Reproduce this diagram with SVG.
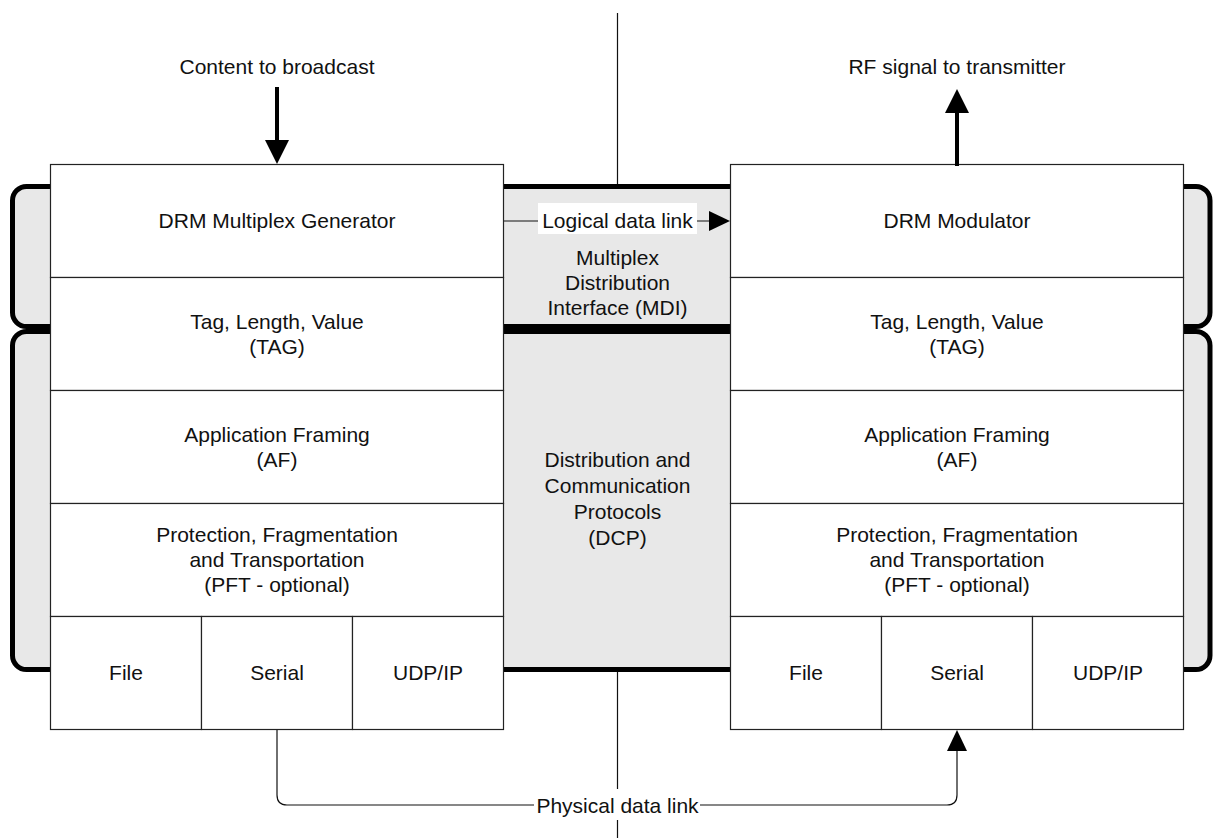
<svg xmlns="http://www.w3.org/2000/svg" width="1213" height="838" viewBox="0 0 1213 838">
<style>
text{font-family:"Liberation Sans",Arial,sans-serif;font-size:21px;fill:#111;text-anchor:middle}
.cell{fill:#fff;stroke:#222;stroke-width:1.2}
.band{fill:#e8e8e8;stroke:#000;stroke-width:5}
.thin{fill:none;stroke:#111;stroke-width:1.2}
.thick{fill:none;stroke:#000;stroke-width:4}
.lbl{fill:#fff}
</style>
<defs>
<marker id="ah" markerUnits="userSpaceOnUse" markerWidth="21" markerHeight="20" viewBox="0 0 21 20" refX="0" refY="10" orient="auto"><path d="M0,0 L21,10 L0,20 z" fill="#000"/></marker>
<marker id="ahBig" markerUnits="userSpaceOnUse" markerWidth="24" markerHeight="24" viewBox="0 0 24 24" refX="0" refY="12" orient="auto"><path d="M0,0 L24,12 L0,24 z" fill="#000"/></marker>
</defs>

<line x1="617.5" y1="13" x2="617.5" y2="838" class="thin"/>

<g id="mdi-band">
<rect class="band" x="12.5" y="186.5" width="1197.5" height="140" rx="14"/>
<text x="617.5" y="265">Multiplex</text>
<text x="617.5" y="290">Distribution</text>
<text x="617.5" y="315">Interface (MDI)</text>
</g>
<g id="dcp-band">
<rect class="band" x="12.5" y="331.5" width="1197.5" height="338" rx="14"/>
<text x="617.5" y="467">Distribution and</text>
<text x="617.5" y="493">Communication</text>
<text x="617.5" y="519">Protocols</text>
<text x="617.5" y="545">(DCP)</text>
</g>

<g id="left-stack">
<g id="l-gen"><rect class="cell" x="50.5" y="164.5" width="453" height="113"/><text x="277" y="228">DRM Multiplex Generator</text></g>
<g id="l-tag"><rect class="cell" x="50.5" y="277.5" width="453" height="113"/><text x="277" y="328.5">Tag, Length, Value</text><text x="277" y="353.5">(TAG)</text></g>
<g id="l-af"><rect class="cell" x="50.5" y="390.5" width="453" height="113"/><text x="277" y="441.5">Application Framing</text><text x="277" y="466.5">(AF)</text></g>
<g id="l-pft"><rect class="cell" x="50.5" y="503.5" width="453" height="113"/><text x="277" y="541.5">Protection, Fragmentation</text><text x="277" y="566.5">and Transportation</text><text x="277" y="591.5">(PFT - optional)</text></g>
<g id="l-file"><rect class="cell" x="50.5" y="616.5" width="151" height="113"/><text x="126" y="680">File</text></g>
<g id="l-serial"><rect class="cell" x="201.5" y="616.5" width="151" height="113"/><text x="277" y="680">Serial</text></g>
<g id="l-udp"><rect class="cell" x="352.5" y="616.5" width="151" height="113"/><text x="428" y="680">UDP/IP</text></g>
</g>

<g id="right-stack">
<g id="r-mod"><rect class="cell" x="730.5" y="164.5" width="453" height="113"/><text x="957" y="228">DRM Modulator</text></g>
<g id="r-tag"><rect class="cell" x="730.5" y="277.5" width="453" height="113"/><text x="957" y="328.5">Tag, Length, Value</text><text x="957" y="353.5">(TAG)</text></g>
<g id="r-af"><rect class="cell" x="730.5" y="390.5" width="453" height="113"/><text x="957" y="441.5">Application Framing</text><text x="957" y="466.5">(AF)</text></g>
<g id="r-pft"><rect class="cell" x="730.5" y="503.5" width="453" height="113"/><text x="957" y="541.5">Protection, Fragmentation</text><text x="957" y="566.5">and Transportation</text><text x="957" y="591.5">(PFT - optional)</text></g>
<g id="r-file"><rect class="cell" x="730.5" y="616.5" width="151" height="113"/><text x="806" y="680">File</text></g>
<g id="r-serial"><rect class="cell" x="881.5" y="616.5" width="151" height="113"/><text x="957" y="680">Serial</text></g>
<g id="r-udp"><rect class="cell" x="1032.5" y="616.5" width="151" height="113"/><text x="1108" y="680">UDP/IP</text></g>
</g>

<g id="connectors">
<line class="thick" x1="277" y1="87" x2="277" y2="140" marker-end="url(#ahBig)"/>
<line class="thick" x1="957" y1="166" x2="957" y2="113" marker-end="url(#ahBig)"/>
<line class="thin" x1="504" y1="221" x2="709" y2="221" marker-end="url(#ah)"/>
<path class="thin" d="M277,730 V795 Q277,805 287,805 H947 Q957,805 957,795 V751" marker-end="url(#ah)"/>
<rect class="lbl" x="538" y="203" width="159" height="31"/>
<text x="617.5" y="228">Logical data link</text>
<rect class="lbl" x="534" y="789" width="166" height="31"/>
<text x="617.5" y="813">Physical data link</text>
</g>

<g id="labels">
<text x="277" y="74">Content to broadcast</text>
<text x="957" y="74">RF signal to transmitter</text>
</g>
</svg>
